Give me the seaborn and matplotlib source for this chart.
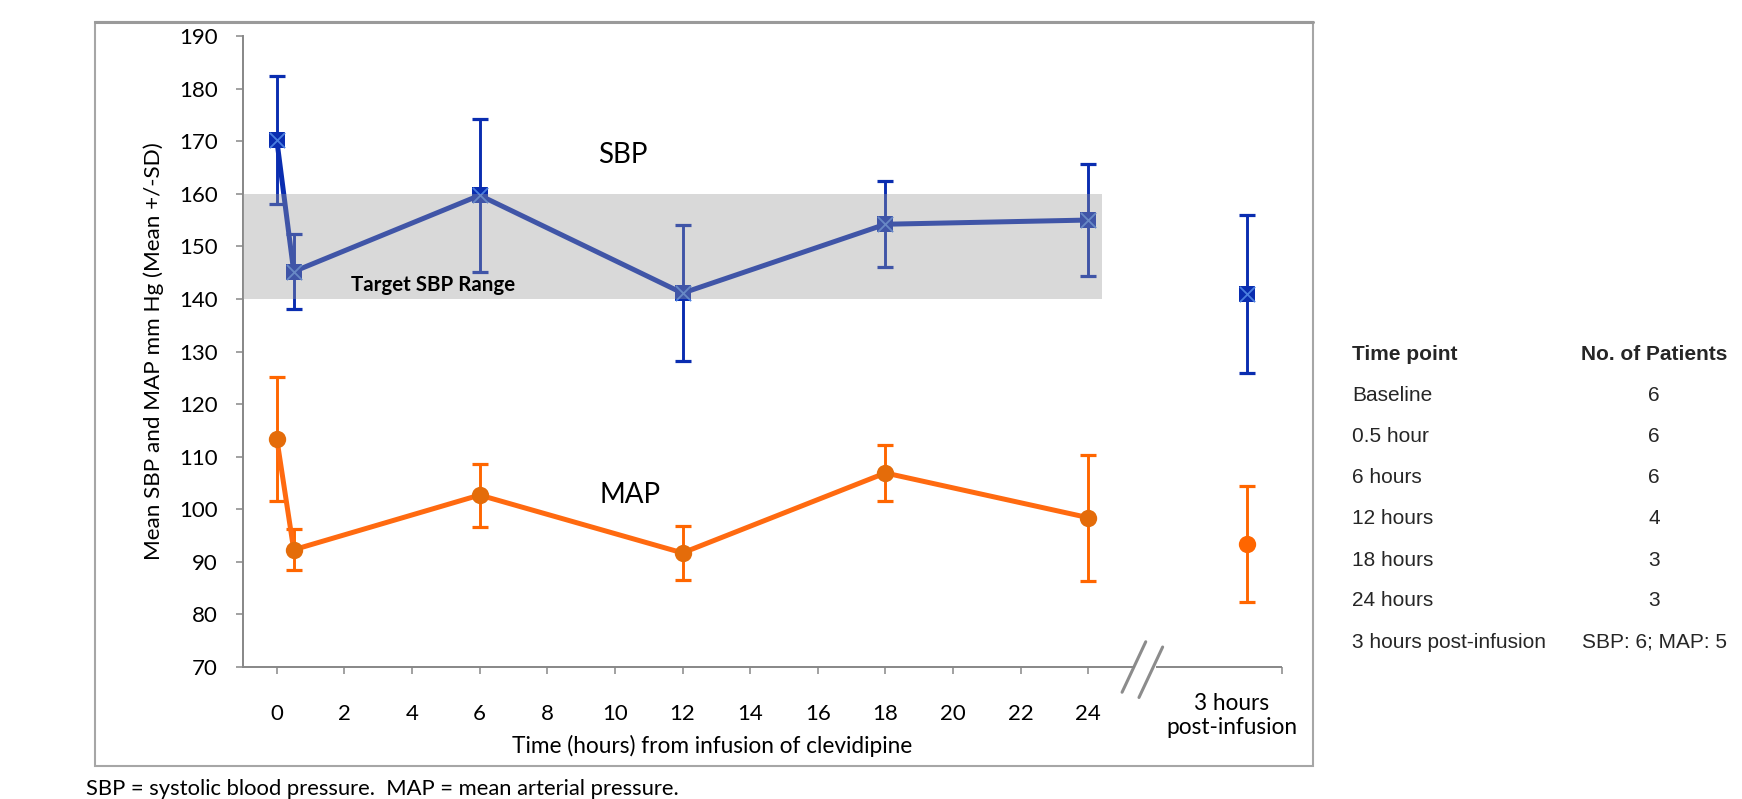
import matplotlib
matplotlib.use("Agg")
import matplotlib.pyplot as plt
import seaborn as sns
import pandas as pd
from matplotlib.patches import Rectangle

# ---------------- data ----------------
hours = [0, 0.5, 6, 12, 18, 24]
sbp_mean = [170.2, 145.2, 159.7, 141.1, 154.2, 155.0]
sbp_sd = [12.1, 7.1, 14.6, 13.0, 8.2, 10.6]
map_mean = [113.4, 92.3, 102.7, 91.7, 106.9, 98.4]
map_sd = [11.8, 3.9, 6.0, 5.1, 5.4, 12.0]

post_sbp_mean = [141.0]
post_sbp_sd = [15.0]
post_map_mean = [93.4]
post_map_sd = [11.1]
post_x = [28.7]

band_low = 140
band_high = 160

x_ticks = list(range(0, 25, 2))
y_ticks = list(range(70, 191, 10))

table_rows = ["Baseline", "0.5 hour", "6 hours", "12 hours", "18 hours",
              "24 hours", "3 hours post-infusion"]
table_counts = ["6", "6", "6", "4", "3", "3", "SBP: 6; MAP: 5"]

# ---------------- style ----------------
sns.set_theme(style="white")
plt.rcParams["font.family"] = ["Lato", "DejaVu Sans"]

W, H = 1742, 799
fig = plt.figure(figsize=(W / 100, H / 100), dpi=100)
fig.patch.set_facecolor("white")


def fx(px):
    return px / W


def fy(py):
    return 1 - py / H


ax_left, ax_right, ax_top, ax_bottom = 243, 1282, 36, 667
ax = fig.add_axes([fx(ax_left), fy(ax_bottom), (ax_right - ax_left) / W,
                   (ax_bottom - ax_top) / H])
ax.set_facecolor("none")

SBP_DARK = "#0a2db0"
SBP_X = "#4a7ee0"
MAP_LINE = "#ff6a10"
MAP_ERR = "#ff6600"
MAP_MARK = "#e46c0a"
AXIS_GRAY = "#878787"

df = pd.DataFrame({"hour": hours, "sbp": sbp_mean, "sbp_sd": sbp_sd,
                   "map": map_mean, "map_sd": map_sd})
post = pd.DataFrame({"x": post_x, "sbp": post_sbp_mean, "sbp_sd": post_sbp_sd,
                     "map": post_map_mean, "map_sd": post_map_sd})

err_kw = dict(fmt="none", elinewidth=2.1, capsize=5.5, capthick=2.3, zorder=2)

# error bars
ax.errorbar(df["hour"], df["sbp"], yerr=df["sbp_sd"], ecolor=SBP_DARK, **err_kw)
ax.errorbar(post["x"], post["sbp"], yerr=post["sbp_sd"], ecolor=SBP_DARK, **err_kw)
ax.errorbar(df["hour"], df["map"], yerr=df["map_sd"], ecolor=MAP_ERR, **err_kw)
ax.errorbar(post["x"], post["map"], yerr=post["map_sd"], ecolor=MAP_ERR, **err_kw)

# lines with markers
sns.lineplot(data=df, x="hour", y="sbp", ax=ax, color=SBP_DARK, linewidth=3.6,
             marker="s", markersize=11.5, markeredgewidth=0,
             markerfacecolor=SBP_DARK, zorder=3)
sns.lineplot(data=df, x="hour", y="map", ax=ax, color=MAP_LINE, linewidth=3.6,
             marker="o", markersize=12.5, markeredgewidth=0,
             markerfacecolor=MAP_MARK, zorder=3)
sns.scatterplot(data=post, x="x", y="sbp", ax=ax, marker="s", s=132,
                color=SBP_DARK, linewidth=0, zorder=4)
sns.scatterplot(data=post, x="x", y="map", ax=ax, marker="o", s=156,
                color=MAP_ERR, linewidth=0, zorder=4)

# X symbols inside the square markers
sns.scatterplot(x=hours + post_x, y=sbp_mean + post_sbp_mean, ax=ax, marker="x",
                s=120, color=SBP_X, linewidth=1.3, zorder=5)

# target band (translucent overlay)
ax.add_patch(Rectangle((-1, band_low), 24.4 + 1, band_high - band_low,
                       facecolor="#9a9a9a", alpha=0.375, edgecolor="none",
                       zorder=6))

# ---------------- axes ----------------
ax.set_xlim(-1, 29.73)
ax.set_ylim(70, 190)
ax.set_yticks(y_ticks)
ax.set_yticklabels([str(v) for v in y_ticks])
ax.set_xticks(x_ticks + [29.73])
ax.set_xticklabels([str(v) for v in x_ticks] + [""])
ax.set_xlabel("")
for s in ["top", "right"]:
    ax.spines[s].set_visible(False)
for s in ["left", "bottom"]:
    ax.spines[s].set_color(AXIS_GRAY)
    ax.spines[s].set_linewidth(1.4)
ax.spines["bottom"].set_bounds(-1, 25.35)
ax.tick_params(axis="both", direction="out", length=5, width=1.1,
               color=AXIS_GRAY, labelsize=16, labelcolor="black")
ax.tick_params(axis="y", pad=13)
ax.tick_params(axis="x", pad=22)
ax.tick_params(axis="x", which="both", bottom=True)
ax.tick_params(axis="y", which="both", left=True)

# axis break
ax.plot([26.0, 29.73], [70, 70], color=AXIS_GRAY, lw=1.4, clip_on=False,
        solid_capstyle="butt", zorder=1)
ax.plot([25.0, 25.7], [65.2, 74.8], color="#8c8c8c", lw=2.2, clip_on=False)
ax.plot([25.5, 26.2], [64.2, 73.8], color="#8c8c8c", lw=2.2, clip_on=False)

ax.set_ylabel("Mean SBP and MAP mm Hg (Mean +/-SD)", fontsize=16.2,
              labelpad=11, color="black")

# ---------------- texts ----------------
fig.text(fx(712), fy(746), "Time (hours) from infusion of clevidipine",
         ha="center", va="center", fontsize=16.3, color="black")
fig.text(fx(1232), fy(703), "3 hours", ha="center", va="center",
         fontsize=16.3, color="black")
fig.text(fx(1232), fy(727), "post-infusion", ha="center", va="center",
         fontsize=16.3, color="black")
fig.text(fx(623), fy(155), "SBP", ha="center", va="center", fontsize=20,
         color="black")
fig.text(fx(630), fy(495), "MAP", ha="center", va="center", fontsize=20,
         color="black")
fig.text(fx(433), fy(285), "Target SBP Range", ha="center", va="center",
         fontsize=14.8, fontweight="bold", color="black", zorder=10)
fig.text(fx(86), fy(789), "SBP = systolic blood pressure.  MAP = mean arterial pressure.",
         ha="left", va="center", fontsize=15.8, color="black")

# outer frame
fig.patches.append(Rectangle((fx(95), fy(766)), (1313 - 95) / W, (766 - 22) / H,
                             transform=fig.transFigure, fill=False,
                             edgecolor="#a6a6a6", linewidth=1.5))
fig.lines.append(plt.Line2D([fx(95), fx(1313)], [fy(22), fy(22)],
                            transform=fig.transFigure, color="#9a9a9a",
                            linewidth=2.2))

# patients table
tfont = ["Liberation Sans", "DejaVu Sans"]
fig.text(fx(1352), fy(355), "Time point", ha="left", va="center", fontsize=15,
         fontweight="bold", family=tfont)
fig.text(fx(1654), fy(355), "No. of Patients", ha="center", va="center",
         fontsize=15, fontweight="bold", family=tfont)
row_y = [396, 437, 478, 519, 560, 600, 642]
for label, count, yy in zip(table_rows, table_counts, row_y):
    fig.text(fx(1352), fy(yy), label, ha="left", va="center", fontsize=15,
             family=tfont)
    fig.text(fx(1654), fy(yy), count, ha="center", va="center", fontsize=15,
             family=tfont)

fig.savefig("out.png", dpi=100, facecolor="white")
